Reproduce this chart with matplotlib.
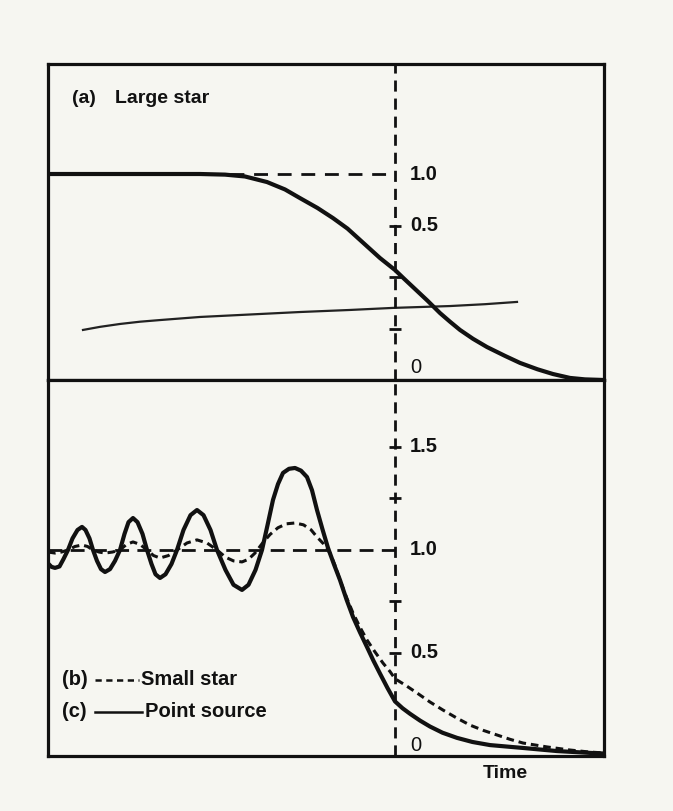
import matplotlib
matplotlib.use("Agg")
import matplotlib.pyplot as plt

plt.rcParams['font.family'] = ['Liberation Sans', 'DejaVu Sans']

# ---------------- data ----------------
# (a) Large star: relative intensity vs time (geometric shadow edge at t = 0)
large_t = [-6.94, -3.9, -3.4, -3.0, -2.56, -2.2, -1.9, -1.55, -1.24, -0.95, -0.7, -0.5,
           -0.3, -0.15, 0.0, 0.18, 0.36, 0.65, 0.9, 1.1, 1.3, 1.56, 1.84, 2.2, 2.5, 2.85,
           3.16, 3.5, 3.8, 4.18]
large_i = [1.0, 1.0, 0.997, 0.988, 0.961, 0.925, 0.883, 0.835, 0.786, 0.735, 0.680, 0.636,
           0.592, 0.563, 0.534, 0.492, 0.451, 0.385, 0.325, 0.283, 0.243, 0.200, 0.160, 0.117,
           0.083, 0.052, 0.029, 0.010, 0.003, 0.0]

# faint second trace in panel (a)
trace_t = [-6.24, -5.9, -5.5, -5.1, -4.7, -3.9, -2.9, -1.9, -0.9, -0.04, 1.1, 1.8, 2.44]
trace_i = [0.243, 0.258, 0.272, 0.283, 0.291, 0.306, 0.318, 0.330, 0.340, 0.350, 0.359, 0.368, 0.379]

# (c) Point source
point_t = [-6.94, -6.87, -6.8, -6.71, -6.63, -6.54, -6.45, -6.35, -6.26, -6.19, -6.11, -6.04,
           -5.96, -5.88, -5.8, -5.70, -5.60, -5.5, -5.41, -5.33, -5.24, -5.15, -5.05, -4.96,
           -4.87, -4.79, -4.7, -4.59, -4.47, -4.36, -4.23, -4.09, -3.96, -3.83, -3.69, -3.56,
           -3.39, -3.23, -3.06, -2.93, -2.79, -2.66, -2.55, -2.44, -2.34, -2.24, -2.12, -2.0,
           -1.88, -1.76, -1.66, -1.56, -1.45, -1.34, -1.22, -1.1, -0.97, -0.84, -0.7, -0.56,
           -0.43, -0.3, -0.15, 0.0, 0.15, 0.3, 0.5, 0.7, 0.95, 1.24, 1.55, 1.9, 2.56, 3.24,
           3.9, 4.18]
point_i = [0.935, 0.918, 0.913, 0.92, 0.956, 1.0, 1.056, 1.097, 1.112, 1.097, 1.056, 1.0,
           0.947, 0.907, 0.893, 0.907, 0.947, 1.0, 1.078, 1.135, 1.155, 1.135, 1.078, 1.0,
           0.932, 0.882, 0.864, 0.882, 0.932, 1.0, 1.097, 1.169, 1.194, 1.169, 1.097, 1.0,
           0.903, 0.831, 0.806, 0.831, 0.903, 1.0, 1.12, 1.243, 1.32, 1.374, 1.394, 1.398,
           1.385, 1.354, 1.29, 1.194, 1.10, 1.01, 0.93, 0.854, 0.76, 0.675, 0.60, 0.529,
           0.462, 0.400, 0.330, 0.265, 0.232, 0.205, 0.172, 0.143, 0.113, 0.088, 0.068, 0.053,
           0.039, 0.024, 0.015, 0.012]

# (b) Small star
small_t = [-6.94, -6.8, -6.67, -6.54, -6.4, -6.26, -6.15, -6.04, -5.92, -5.8, -5.65, -5.5,
           -5.37, -5.24, -5.10, -4.96, -4.83, -4.7, -4.53, -4.36, -4.16, -3.96, -3.76, -3.56,
           -3.39, -3.23, -3.06, -2.93, -2.8, -2.66, -2.5, -2.34, -2.17, -2.0, -1.83, -1.68,
           -1.56, -1.43, -1.3, -1.2, -1.1, -0.97, -0.84, -0.7, -0.56, -0.4, -0.24, -0.1, 0.0,
           0.2, 0.44, 0.7, 0.96, 1.23, 1.5, 1.77, 2.04, 2.3, 2.56, 3.04, 3.5, 3.9, 4.18]
small_i = [0.99, 0.985, 0.99, 1.0, 1.017, 1.024, 1.017, 1.0, 0.99, 0.985, 0.99, 1.0,
           1.027, 1.039, 1.027, 1.0, 0.973, 0.961, 0.973, 1.0, 1.034, 1.049, 1.034, 1.0,
           0.965, 0.947, 0.942, 0.955, 0.985, 1.03, 1.075, 1.108, 1.127, 1.131, 1.122, 1.098,
           1.063, 1.03, 0.985, 0.925, 0.854, 0.77, 0.694, 0.625, 0.563, 0.505, 0.451, 0.41, 0.375,
           0.345, 0.306, 0.262, 0.223, 0.185, 0.150, 0.124, 0.102, 0.081, 0.063, 0.044, 0.029,
           0.019, 0.015]

top_ticks = [1.0, 0.75, 0.5, 0.25, 0.0]
top_labels = ["1.0", "0.5", "", "", "0"]
bot_ticks = [1.5, 1.25, 1.0, 0.75, 0.5, 0.0]
bot_labels = ["1.5", "", "1.0", "", "0.5", "0"]

# ---------------- figure ----------------
W, H = 673, 811
bg = '#f6f6f1'
ink = '#111111'
fig = plt.figure(figsize=(W / 100, H / 100), dpi=100, facecolor=bg)

L, R = 48, 604
T1, B1 = 64, 380
B2 = 756
ax_top = fig.add_axes([L / W, (H - B1) / H, (R - L) / W, (B1 - T1) / H])
ax_bot = fig.add_axes([L / W, (H - B2) / H, (R - L) / W, (B2 - B1) / H])

xlim = (-6.94, 4.18)
for ax in (ax_top, ax_bot):
    ax.set_facecolor(bg)
    ax.set_xlim(*xlim)
    ax.set_xticks([])
    ax.set_yticks([])
    for s in ax.spines.values():
        s.set_linewidth(2.3)
        s.set_color(ink)
ax_top.set_ylim(0, 1.534)
ax_bot.set_ylim(0, 1.825)

fs = 15
# ---- panel (a)
ax_top.plot(large_t, large_i, color=ink, lw=3.0, solid_capstyle='round',
            solid_joinstyle='round', zorder=3)
ax_top.plot(trace_t, trace_i, color='#222222', lw=1.6, zorder=2)
ax_top.plot([-3.3, 0], [1.0, 1.0], color=ink, lw=2.0, dashes=(5, 3.5))
ax_top.axvline(0, color=ink, lw=2.0, dashes=(4, 2.5))
ax_top.plot([0] * 3, top_ticks[1:4], ls='none', marker='_', ms=9, mew=2, color=ink)
for v, lab in zip(top_ticks, top_labels):
    if not lab:
        continue
    yy = v if v > 0 else 0.06
    ax_top.text(0.3, yy, lab, fontsize=fs - 0.5, fontweight='bold' if v > 0 else 'normal',
                va='center', ha='left', color=ink)
ax_top.text(-6.46, 1.345, "(a)", fontsize=fs - 1, fontweight='bold', va='baseline', color=ink)
ax_top.text(-5.6, 1.345, "Large star", fontsize=fs - 1, fontweight='bold', va='baseline', color=ink)

# ---- panels (b), (c)
ax_bot.plot(point_t, point_i, color=ink, lw=3.0, solid_capstyle='round',
            solid_joinstyle='round', zorder=3)
ax_bot.plot(small_t, small_i, color=ink, lw=2.2, dashes=(2.5, 1.6), zorder=3)
ax_bot.plot([xlim[0], 0], [1.0, 1.0], color=ink, lw=2.0, dashes=(5, 3))
ax_bot.axvline(0, color=ink, lw=2.0, dashes=(4, 2.5))
ax_bot.plot([0] * 4, [1.5, 1.25, 0.75, 0.5], ls='none', marker='_', ms=9, mew=2, color=ink)
for v, lab in zip(bot_ticks, bot_labels):
    if not lab:
        continue
    yy = v if v > 0 else 0.05
    ax_bot.text(0.3, yy, lab, fontsize=fs - 0.5, fontweight='bold' if v > 0 else 'normal',
                va='center', ha='left', color=ink)

# legend drawn as in the original
ax_bot.text(-6.66, 0.369, "(b)", fontsize=fs - 0.5, fontweight='bold', va='center', color=ink)
ax_bot.plot([-6.0, -5.12], [0.369, 0.369], color=ink, lw=1.8, dashes=(2.5, 1.8))
ax_bot.text(-5.08, 0.369, "Small star", fontsize=fs - 0.5, fontweight='bold', va='center', color=ink)
ax_bot.text(-6.66, 0.214, "(c)", fontsize=fs - 0.5, fontweight='bold', va='center', color=ink)
ax_bot.plot([-6.0, -5.06], [0.214, 0.214], color=ink, lw=1.8)
ax_bot.text(-5.0, 0.214, "Point source", fontsize=fs - 0.5, fontweight='bold', va='center', color=ink)

fig.text(505 / W, 1 - 773 / H, "Time", fontsize=fs - 1, fontweight='bold',
         ha='center', va='center', color=ink)

fig.savefig("out.png", dpi=100, facecolor=bg)
